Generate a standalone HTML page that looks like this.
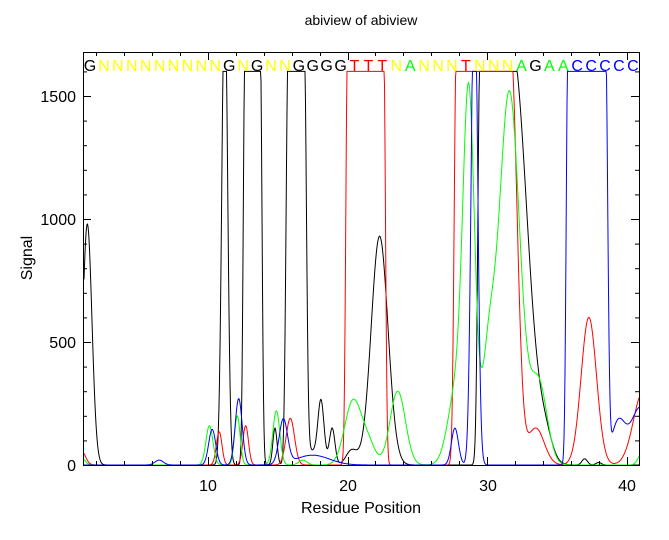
<!DOCTYPE html>
<html><head><meta charset="utf-8"><style>
html,body{margin:0;padding:0;background:#fff}
svg{display:block;font-family:"Liberation Sans",sans-serif}
</style></head><body>
<svg id="s" width="669" height="540" xmlns="http://www.w3.org/2000/svg">
<rect width="669" height="540" fill="#fff"/>
<text x="361" y="25" font-size="14" text-anchor="middle">abiview of abiview</text>
<text x="361" y="513" font-size="16" text-anchor="middle">Residue Position</text>
<text transform="translate(32,258) rotate(-90)" font-size="16" text-anchor="middle">Signal</text>
<g font-size="16" text-anchor="end">
<text x="76" y="471">0</text><text x="76" y="348">500</text><text x="76" y="225">1000</text><text x="76" y="102">1500</text>
</g>
<g font-size="16" text-anchor="middle">
<text x="208" y="491">10</text><text x="348" y="491">20</text><text x="488" y="491">30</text><text x="627" y="491">40</text>
</g>
<g id="curves" fill="none" stroke-width="1"></g>
<g id="ticks" stroke="#000" stroke-width="1"></g>
<rect x="83.5" y="52.5" width="556" height="413" fill="none" stroke="#000"/>
<g id="seq" font-size="16" text-anchor="middle"></g>
</svg>
<script>
var ns="http://www.w3.org/2000/svg";
function X(p){return 208+(p-10)*13.95}
function Y(v){return 465-v*0.246}
function el(t,a,parent){var e=document.createElementNS(ns,t);for(var k in a)e.setAttribute(k,a[k]);document.getElementById(parent).appendChild(e);return e}
var seq="GNNNNNNNNNGNGNNGGGGTTTNANNNTNNNAGAACCCCC";
var col={G:"#000",N:"#ffff00",T:"#ff0000",A:"#00ff00",C:"#0000ff"};
for(var i=0;i<40;i++){var t=el("text",{x:90+i*13.92,y:71,fill:col[seq[i]]},"seq");t.textContent=seq[i];}
for(var v=0;v<=1600;v+=100){var L=(v%500==0)?8:4;
 el("line",{x1:83,x2:83+L,y1:Y(v)+.5,y2:Y(v)+.5},"ticks");el("line",{x1:639-L,x2:639,y1:Y(v)+.5,y2:Y(v)+.5},"ticks");}
for(var p=2;p<=40;p+=2){var L=(p%10==0)?8:4;var x=Math.round(X(p))+.5;
 el("line",{x1:x,x2:x,y1:465-L,y2:465},"ticks");el("line",{x1:x,x2:x,y1:52,y2:52+L},"ticks");}
var S={
"#000":[[1.35,980,0.33],[11.2,2000,0.2],["f",12.65,13.75,0.12,0.12],[14.8,150,0.15],["f",15.75,16.9,0.15,0.15],[18.1,250,0.22],[18.9,150,0.2],[17.3,60,0.5],[22.3,930,0.6],[20.3,60,0.4],["f",29.5,31.8,0.15,1.05],[34.2,80,0.5],[37,25,0.2],[38,10,0.2]],
"#ff0000":[[0.9,60,0.3],[10.8,135,0.2],[12.7,160,0.2],[15.9,190,0.3],["f",20,22.6,0.12,0.12],["f",27.8,31.7,0.15,0.45],[33.5,150,0.6],[37.3,600,0.55],[41.2,300,0.7]],
"#00ff00":[[0.8,40,0.3],[10.1,160,0.25],[12.1,200,0.2],[14.9,220,0.25],[16.8,20,0.3],[20.4,260,0.6],[23.6,300,0.55],[21.5,80,0.5],[28.7,1450,0.42],[27.8,300,0.6],[30.1,380,0.45],[31.6,1520,0.75],[33.7,330,0.6],[41.2,60,0.3]],
"#0000ff":[[6.5,20,0.3],[10.3,145,0.25],[12.2,270,0.25],[15.4,180,0.3],[17.5,40,1.2],[27.7,150,0.25],[29.1,2100,0.22],["f",35.8,38.5,0.12,0.15],[39.4,170,0.5],[41,235,0.7]]
};
function val(list,p){var s=0;for(var i=0;i<list.length;i++){var q=list[i];
 if(q[0]=="f"){var d=0,e=q[3];if(p<q[1]){d=q[1]-p;e=q[3];}else if(p>q[2]){d=p-q[2];e=q[4];}s+=1700*Math.exp(-Math.pow(d/e,2)/2);}
 else s+=q[1]*Math.exp(-Math.pow((p-q[0])/q[2],2)/2);}
 return Math.min(s,1600);}
for(var c in S){var d="";for(var x=84;x<=639;x+=0.5){var p=10+(x-208)/13.95;d+=(d?"L":"M")+x.toFixed(1)+","+Y(val(S[c],p)).toFixed(1);}
 el("path",{d:d,stroke:c},"curves");}
</script>
</body></html>
